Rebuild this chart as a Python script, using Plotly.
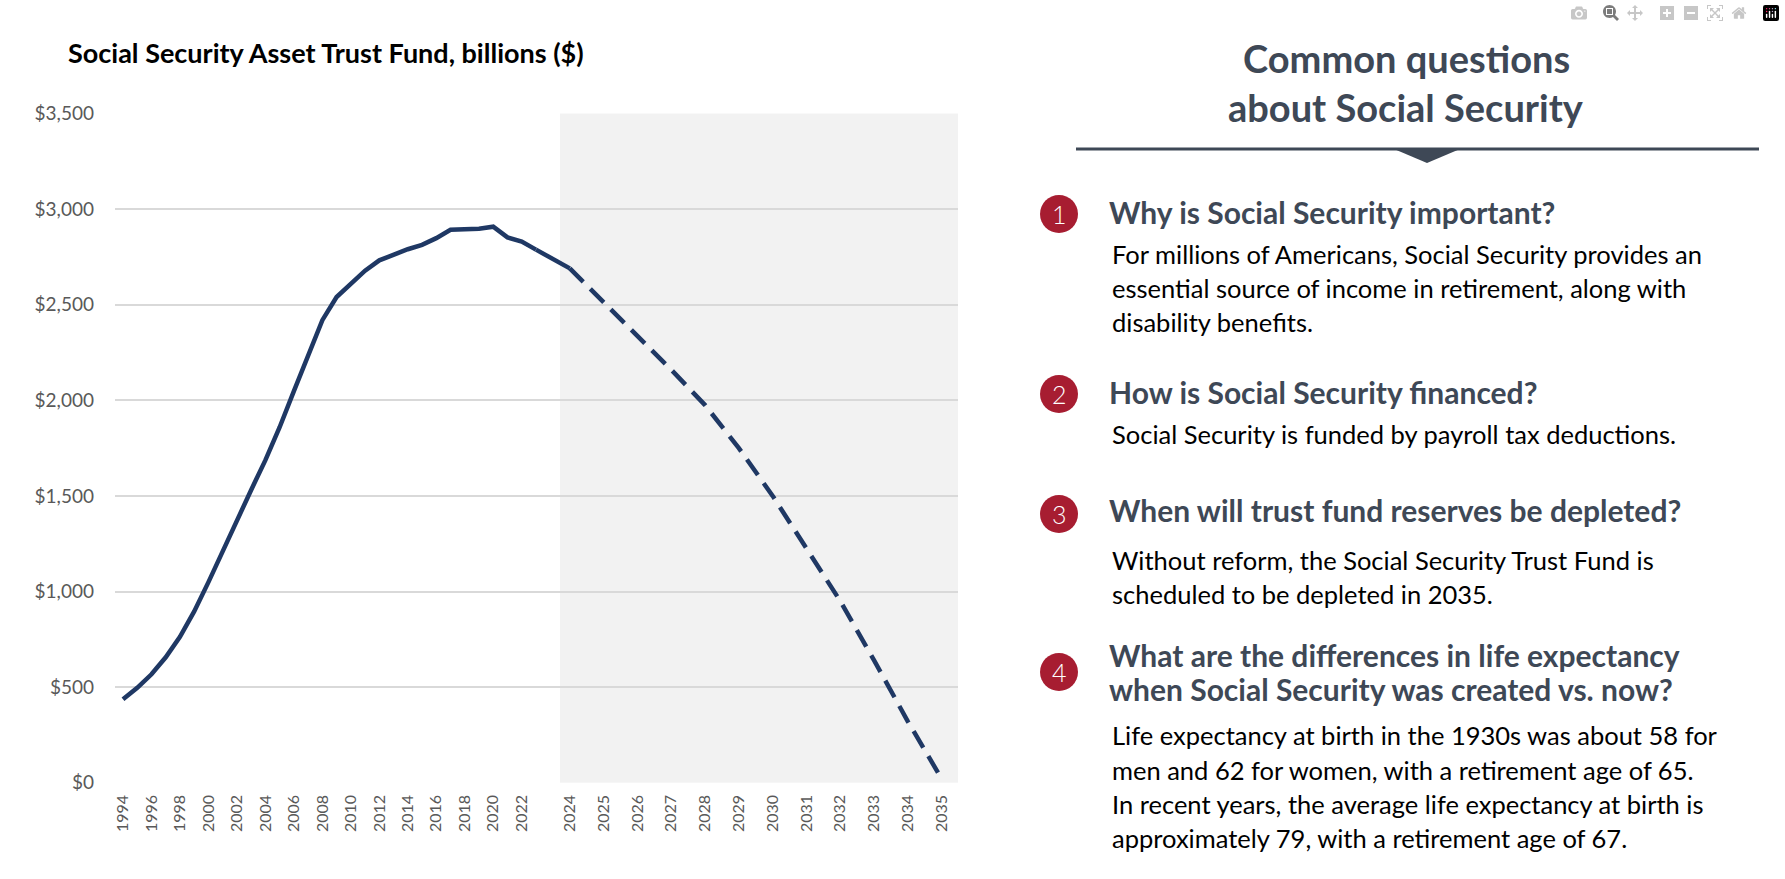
import plotly.graph_objects as go

# ---------------- data ----------------
hist_years = list(range(1994, 2024))
hist_values = [436, 496, 567, 656, 763, 896, 1049, 1213, 1378, 1531,
               1687, 1859, 2048, 2239, 2419, 2540, 2609, 2678, 2732, 2764,
               2790, 2813, 2848, 2892, 2895, 2897, 2908, 2852, 2830, 2788]
proj_years = list(range(2024, 2036))
proj_values = [2690, 2515, 2340, 2160, 1975, 1750, 1500, 1230, 950, 640, 320, 20]

hist_tick_years = list(range(1994, 2023, 2))
proj_tick_years = list(range(2024, 2036))
y_ticks = [0, 500, 1000, 1500, 2000, 2500, 3000, 3500]

chart_title = "Social Security Asset Trust Fund, billions ($)"
panel_title = ["Common questions", "about Social Security"]
questions = [
    ("1", ["Why is Social Security important?"],
     ["For millions of Americans, Social Security provides an",
      "essential source of income in retirement, along with",
      "disability benefits."]),
    ("2", ["How is Social Security financed?"],
     ["Social Security is funded by payroll tax deductions."]),
    ("3", ["When will trust fund reserves be depleted?"],
     ["Without reform, the Social Security Trust Fund is",
      "scheduled to be depleted in 2035."]),
    ("4", ["What are the differences in life expectancy",
           "when Social Security was created vs. now?"],
     ["Life expectancy at birth in the 1930s was about 58 for",
      "men and 62 for women, with a retirement age of 65.",
      "In recent years, the average life expectancy at birth is",
      "approximately 79, with a retirement age of 67."]),
]

# ---------------- styling / layout ----------------
W, H = 1785, 879
FONT = "Lato, 'Open Sans', sans-serif"
NAVY = "#1f3864"
SLATE = "#3e4856"
RED = "#a71d31"
GRAY_TXT = "#595959"


def px(x):
    return x / W


def py(y):
    return 1 - y / H


fig = go.Figure()

# historical (solid)
fig.add_trace(go.Scatter(x=hist_years, y=hist_values, mode="lines",
                         line=dict(color=NAVY, width=4.5),
                         xaxis="x", yaxis="y", showlegend=False, hoverinfo="skip"))
# bridge from last actual to first projection (solid)
fig.add_trace(go.Scatter(x=[hist_years[-1], proj_years[0]],
                         y=[hist_values[-1], proj_values[0]], mode="lines",
                         line=dict(color=NAVY, width=4.5),
                         xaxis="x2", yaxis="y", showlegend=False, hoverinfo="skip"))
# projection (dashed)
fig.add_trace(go.Scatter(x=proj_years, y=proj_values, mode="lines",
                         line=dict(color=NAVY, width=4.5, dash="19px,10px"),
                         xaxis="x2", yaxis="y", showlegend=False, hoverinfo="skip"))

xtickfont = dict(family=FONT, size=16, color=GRAY_TXT)
ytickfont = dict(family=FONT, size=19, color=GRAY_TXT)

# pixel geometry of the plotting region
plot_left, plot_right = 115, 958
y_bottom, y_top = 782.7, 113.5
x1994 = 123.0
hist_step = 14.24
x2023 = 536.0
proj_step = 33.81

hist_range = [hist_years[0] - (x1994 - plot_left) / hist_step,
              hist_years[0] + (plot_right - x1994) / hist_step]
proj_range = [hist_years[-1] - (x2023 - plot_left) / proj_step,
              hist_years[-1] + (plot_right - x2023) / proj_step]

fig.update_layout(
    width=W, height=H, autosize=False,
    margin=dict(l=0, r=0, t=0, b=0, pad=0, autoexpand=False),
    paper_bgcolor="white", plot_bgcolor="rgba(0,0,0,0)",
    font=dict(family=FONT),
    xaxis=dict(domain=[px(plot_left), px(plot_right)], range=hist_range,
               tickmode="array", tickvals=hist_tick_years,
               ticktext=[str(v) for v in hist_tick_years],
               tickangle=-90, tickfont=xtickfont, showgrid=False,
               zeroline=False, showline=False, ticks="", anchor="y",
               ticklabelstandoff=8, automargin=False),
    xaxis2=dict(overlaying="x", range=proj_range,
                tickmode="array", tickvals=proj_tick_years,
                ticktext=[str(v) for v in proj_tick_years],
                tickangle=-90, tickfont=xtickfont, showgrid=False,
                zeroline=False, showline=False, ticks="", anchor="y",
                side="bottom", ticklabelstandoff=8, automargin=False),
    yaxis=dict(domain=[py(y_bottom), py(y_top)], range=[0, 3500],
               tickmode="array", tickvals=y_ticks,
               ticktext=["${:,}".format(v) for v in y_ticks],
               tickfont=ytickfont, showgrid=True, gridcolor="#d9d9d9",
               gridwidth=1.5, zeroline=False, showline=False, ticks="",
               anchor="x", ticklabelstandoff=20, automargin=False),
)

shapes = []
# projection shading (translucent so the gridlines still show through)
shapes.append(dict(type="rect", xref="paper", yref="paper",
                   x0=px(560), x1=px(plot_right), y0=py(y_bottom), y1=py(y_top),
                   fillcolor="rgba(0,0,0,0.05)", line=dict(width=0), layer="below"))
# rule under the panel title
shapes.append(dict(type="line", xref="paper", yref="paper",
                   x0=px(1076), x1=px(1759), y0=py(149), y1=py(149),
                   line=dict(color=SLATE, width=3)))
# small pointer triangle
tri = "M {a},{b} L {c},{b} L {d},{e} Z".format(
    a=px(1394), c=px(1460), b=py(149), d=px(1427), e=py(163))
shapes.append(dict(type="path", xref="paper", yref="paper", path=tri,
                   fillcolor=SLATE, line=dict(width=0)))

annotations = []
annotations.append(dict(text="<b>" + chart_title + "</b>", xref="paper", yref="paper",
                        x=px(66), y=py(52), xanchor="left", yanchor="middle",
                        showarrow=False, font=dict(family=FONT, size=27, color="#000000")))
for txt, yy in zip(panel_title, [58, 107]):
    annotations.append(dict(text="<b>" + txt + "</b>", xref="paper", yref="paper",
                            x=px(1406), y=py(yy), xanchor="center", yanchor="middle",
                            showarrow=False, font=dict(family=FONT, size=38, color=SLATE)))

circle_y = [214, 394, 514, 672]
head_y = [[212], [392], [510], [655, 689]]
body_y = [[254, 288, 322], [434], [560, 594], [735, 770, 804, 838]]
r = 19
for (num, heads, body), cy, hy, by in zip(questions, circle_y, head_y, body_y):
    shapes.append(dict(type="circle", xref="paper", yref="paper",
                       x0=px(1059 - r), x1=px(1059 + r), y0=py(cy + r), y1=py(cy - r),
                       fillcolor=RED, line=dict(width=0)))
    annotations.append(dict(text=num, xref="paper", yref="paper", x=px(1059), y=py(cy),
                            xanchor="center", yanchor="middle", showarrow=False,
                            font=dict(family=FONT, size=25, color="white", weight=300)))
    for t, yy in zip(heads, hy):
        annotations.append(dict(text="<b>" + t + "</b>", xref="paper", yref="paper",
                                x=px(1107), y=py(yy), xanchor="left", yanchor="middle",
                                showarrow=False,
                                font=dict(family=FONT, size=30, color=SLATE)))
    for t, yy in zip(body, by):
        annotations.append(dict(text=t, xref="paper", yref="paper",
                                x=px(1110), y=py(yy), xanchor="left", yanchor="middle",
                                showarrow=False,
                                font=dict(family=FONT, size=25.5, color="#000000")))

fig.update_layout(shapes=shapes, annotations=annotations)

fig.write_html("out.html",
               post_script="document.body.style.margin='0';document.body.style.overflow='hidden';")
